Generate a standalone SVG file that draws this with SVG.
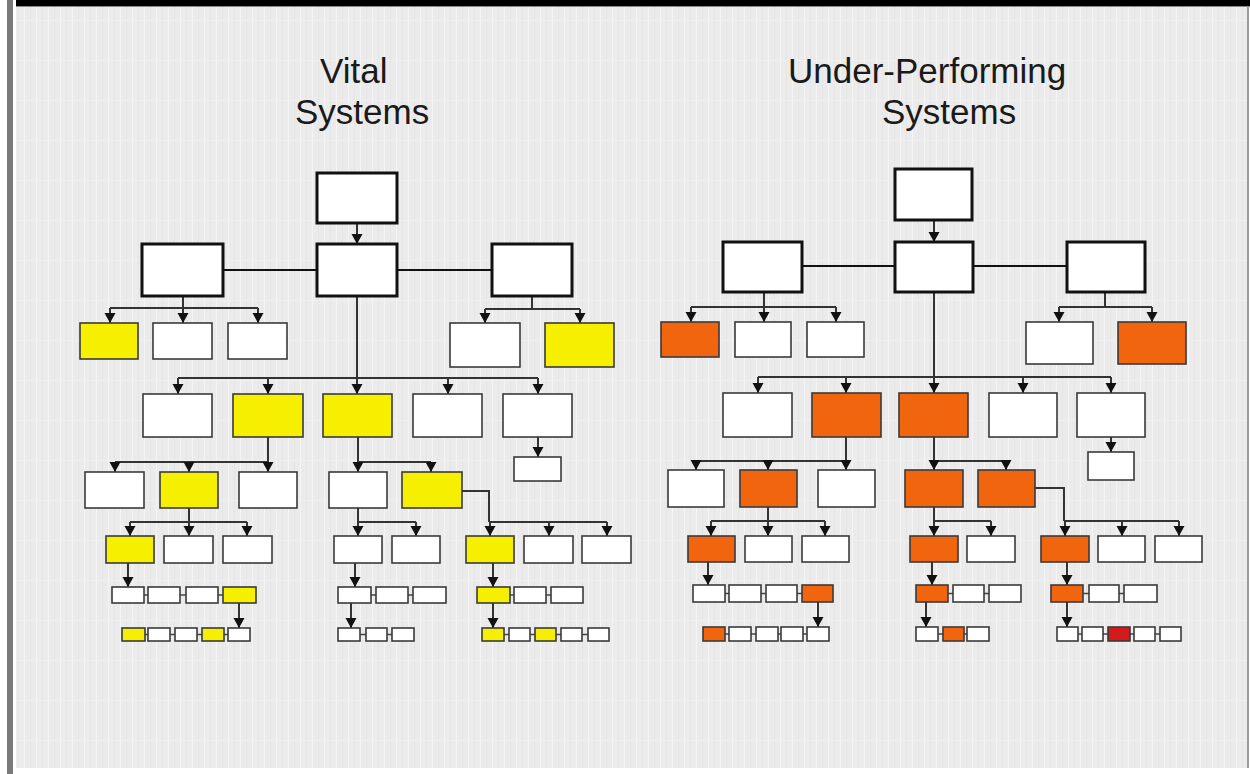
<svg xmlns="http://www.w3.org/2000/svg" width="1250" height="774" viewBox="0 0 1250 774">
<style>
.title{font-family:"Liberation Sans",Arial,sans-serif;font-size:35px;fill:#1a1a1a}
.big{fill:#fff;stroke:#111;stroke-width:3}
.box{fill:#fff;stroke:#3a3a3a;stroke-width:1.6}
.y{fill:#f6ef00}
.o{fill:#f2650f}
.r{fill:#d41a1a}
.c{fill:none;stroke:#333;stroke-width:2}
.k{fill:none;stroke:#111;stroke-width:2}
.a{fill:none;stroke:#333;stroke-width:2;marker-end:url(#arr)}
.l{fill:none;stroke:#444;stroke-width:1.5}
</style>
<defs>
<marker id="arr" markerUnits="userSpaceOnUse" markerWidth="12" markerHeight="12" refX="10" refY="5.5" orient="auto">
<path d="M0,0 L10,5.5 L0,11 z" fill="#111"/>
</marker>
<pattern id="bgp" patternUnits="userSpaceOnUse" width="12" height="40">
<rect width="12" height="40" fill="#ebebeb"/>
<rect x="0" y="0" width="1" height="40" fill="#f4f4f4"/>
<rect x="6" y="0" width="1" height="40" fill="#e5e5e5"/>
<rect x="0" y="20" width="12" height="1" fill="#efefef"/>
</pattern>
</defs>
<rect x="0" y="0" width="1250" height="774" fill="#ffffff"/>
<rect x="16" y="5" width="1231" height="763" fill="url(#bgp)"/>
<rect x="16" y="0" width="1234" height="6" fill="#000"/>
<rect x="16" y="6" width="1234" height="1" fill="#888"/>
<rect x="7" y="0" width="6" height="774" fill="#7a7a7a"/>
<rect x="1247" y="6" width="2" height="762" fill="#9a9a9a"/>

<g id="titles">
<text class="title" x="320" y="83">Vital</text>
<text class="title" x="295" y="124">Systems</text>
<text class="title" x="788" y="83">Under-Performing</text>
<text class="title" x="882" y="124">Systems</text>
</g>

<g id="connectors">
<!-- left tree -->
<path class="a" d="M357,223 V244"/>
<path class="k" d="M223,270 H317 M397,270 H492"/>
<path class="c" d="M183,296 V308 M110,308 H258"/>
<path class="a" d="M110,308 V323"/><path class="a" d="M183,308 V323"/><path class="a" d="M258,308 V323"/>
<path class="c" d="M532,296 V309 M485,309 H580"/>
<path class="a" d="M485,309 V323"/><path class="a" d="M580,309 V323"/>
<path class="c" d="M357,296 V378 M178,378 H538"/>
<path class="a" d="M178,378 V394"/><path class="a" d="M268,378 V394"/><path class="a" d="M357,378 V394"/><path class="a" d="M448,378 V394"/><path class="a" d="M538,378 V394"/>
<path class="a" d="M538,437 V457"/>
<path class="c" d="M268,437 V462 M115,462 H268"/>
<path class="a" d="M115,462 V472"/><path class="a" d="M189,462 V472"/><path class="a" d="M268,462 V472"/>
<path class="c" d="M358,437 V462 H431"/>
<path class="a" d="M358,462 V472"/><path class="a" d="M431,462 V472"/>
<path class="c" d="M462,491 H489 V522 M489,522 H607"/>
<path class="a" d="M490,522 V536"/><path class="a" d="M549,522 V536"/><path class="a" d="M607,522 V536"/>
<path class="c" d="M189,508 V522 M130,522 H247"/>
<path class="a" d="M130,522 V536"/><path class="a" d="M189,522 V536"/><path class="a" d="M247,522 V536"/>
<path class="c" d="M358,508 V522 H416"/>
<path class="a" d="M358,522 V536"/><path class="a" d="M416,522 V536"/>
<path class="a" d="M128,563 V587"/><path class="a" d="M355,563 V587"/><path class="a" d="M493,563 V587"/>
<path class="a" d="M239,603 V628"/><path class="a" d="M351,603 V628"/><path class="a" d="M493,603 V628"/>
<path class="l" d="M144,595 H148 M180,595 H186 M218,595 H223 M371,595 H376 M408,595 H413 M510,595 H514 M546,595 H551"/>
<path class="l" d="M145,634.5 H148 M170,634.5 H175 M197,634.5 H202 M224,634.5 H228 M360,634.5 H366 M387,634.5 H392 M504,634.5 H509 M530,634.5 H535 M556,634.5 H561 M582,634.5 H588"/>
<!-- right tree -->
<path class="a" d="M934,220 V242"/>
<path class="k" d="M802,266 H895 M973,266 H1067"/>
<path class="c" d="M764,292 V307 M691,307 H836"/>
<path class="a" d="M691,307 V322"/><path class="a" d="M764,307 V322"/><path class="a" d="M836,307 V322"/>
<path class="c" d="M1105,292 V307 M1059,307 H1152"/>
<path class="a" d="M1059,307 V322"/><path class="a" d="M1152,307 V322"/>
<path class="c" d="M934,292 V377 M758,377 H1111"/>
<path class="a" d="M758,377 V393"/><path class="a" d="M846,377 V393"/><path class="a" d="M934,377 V393"/><path class="a" d="M1023,377 V393"/><path class="a" d="M1111,377 V393"/>
<path class="a" d="M1111,437 V452"/>
<path class="c" d="M846,437 V461 M696,461 H846"/>
<path class="a" d="M696,461 V470"/><path class="a" d="M768,461 V470"/><path class="a" d="M846,461 V470"/>
<path class="c" d="M934,437 V461 H1006"/>
<path class="a" d="M934,461 V470"/><path class="a" d="M1006,461 V470"/>
<path class="c" d="M1035,488 H1064 V521 M1064,521 H1179"/>
<path class="a" d="M1065,521 V536"/><path class="a" d="M1122,521 V536"/><path class="a" d="M1179,521 V536"/>
<path class="c" d="M768,507 V521 M711,521 H825"/>
<path class="a" d="M711,521 V536"/><path class="a" d="M768,521 V536"/><path class="a" d="M825,521 V536"/>
<path class="c" d="M934,507 V521 H991"/>
<path class="a" d="M934,521 V536"/><path class="a" d="M991,521 V536"/>
<path class="a" d="M708,562 V585"/><path class="a" d="M932,562 V585"/><path class="a" d="M1067,562 V585"/>
<path class="a" d="M818,602 V627"/><path class="a" d="M926,602 V627"/><path class="a" d="M1067,602 V627"/>
<path class="l" d="M725,593.5 H729 M761,593.5 H766 M797,593.5 H802 M948,593.5 H953 M984,593.5 H989 M1083,593.5 H1089 M1119,593.5 H1124"/>
<path class="l" d="M725,634 H729 M751,634 H756 M778,634 H781 M803,634 H807 M938,634 H943 M964,634 H967 M1078,634 H1082 M1103,634 H1108 M1130,634 H1134 M1155,634 H1160"/>
</g>

<g id="left-tree">
<g id="L-top"><rect class="big" x="317" y="173" width="80" height="50"/></g>
<g id="L-m1"><rect class="big" x="142" y="244" width="81" height="52"/></g>
<g id="L-m2"><rect class="big" x="317" y="244" width="80" height="52"/></g>
<g id="L-m3"><rect class="big" x="492" y="244" width="80" height="52"/></g>
<g id="L-r3a"><rect class="box y" x="80" y="323" width="58" height="36"/></g>
<g id="L-r3b"><rect class="box" x="153" y="323" width="59" height="36"/></g>
<g id="L-r3c"><rect class="box" x="228" y="323" width="59" height="36"/></g>
<g id="L-r3d"><rect class="box" x="450" y="323" width="70" height="44"/></g>
<g id="L-r3e"><rect class="box y" x="545" y="323" width="69" height="44"/></g>
<g id="L-r4a"><rect class="box" x="143" y="394" width="69" height="43"/></g>
<g id="L-r4b"><rect class="box y" x="233" y="394" width="70" height="43"/></g>
<g id="L-r4c"><rect class="box y" x="323" y="394" width="69" height="43"/></g>
<g id="L-r4d"><rect class="box" x="413" y="394" width="69" height="43"/></g>
<g id="L-r4e"><rect class="box" x="503" y="394" width="69" height="43"/></g>
<g id="L-small"><rect class="box" x="514" y="457" width="47" height="24"/></g>
<g id="L-r5a"><rect class="box" x="85" y="472" width="59" height="36"/></g>
<g id="L-r5b"><rect class="box y" x="160" y="472" width="58" height="36"/></g>
<g id="L-r5c"><rect class="box" x="239" y="472" width="58" height="36"/></g>
<g id="L-r5d"><rect class="box" x="329" y="472" width="58" height="36"/></g>
<g id="L-r5e"><rect class="box y" x="402" y="472" width="60" height="36"/></g>
<g id="L-r6a"><rect class="box y" x="106" y="536" width="48" height="27"/></g>
<g id="L-r6b"><rect class="box" x="164" y="536" width="49" height="27"/></g>
<g id="L-r6c"><rect class="box" x="223" y="536" width="49" height="27"/></g>
<g id="L-r6d"><rect class="box" x="334" y="536" width="48" height="27"/></g>
<g id="L-r6e"><rect class="box" x="392" y="536" width="48" height="27"/></g>
<g id="L-r6f"><rect class="box y" x="466" y="536" width="48" height="27"/></g>
<g id="L-r6g"><rect class="box" x="524" y="536" width="49" height="27"/></g>
<g id="L-r6h"><rect class="box" x="582" y="536" width="49" height="27"/></g>
<g id="L-r7a"><rect class="box" x="112" y="587" width="32" height="16"/></g>
<g id="L-r7b"><rect class="box" x="148" y="587" width="32" height="16"/></g>
<g id="L-r7c"><rect class="box" x="186" y="587" width="32" height="16"/></g>
<g id="L-r7d"><rect class="box y" x="223" y="587" width="33" height="16"/></g>
<g id="L-r7e"><rect class="box" x="338" y="587" width="33" height="16"/></g>
<g id="L-r7f"><rect class="box" x="376" y="587" width="32" height="16"/></g>
<g id="L-r7g"><rect class="box" x="413" y="587" width="33" height="16"/></g>
<g id="L-r7h"><rect class="box y" x="477" y="587" width="33" height="16"/></g>
<g id="L-r7i"><rect class="box" x="514" y="587" width="32" height="16"/></g>
<g id="L-r7j"><rect class="box" x="551" y="587" width="32" height="16"/></g>
<g id="L-r8a"><rect class="box y" x="122" y="628" width="23" height="13"/></g>
<g id="L-r8b"><rect class="box" x="148" y="628" width="22" height="13"/></g>
<g id="L-r8c"><rect class="box" x="175" y="628" width="22" height="13"/></g>
<g id="L-r8d"><rect class="box y" x="202" y="628" width="22" height="13"/></g>
<g id="L-r8e"><rect class="box" x="228" y="628" width="22" height="13"/></g>
<g id="L-r8f"><rect class="box" x="338" y="628" width="22" height="13"/></g>
<g id="L-r8g"><rect class="box" x="366" y="628" width="21" height="13"/></g>
<g id="L-r8h"><rect class="box" x="392" y="628" width="22" height="13"/></g>
<g id="L-r8i"><rect class="box y" x="482" y="628" width="22" height="13"/></g>
<g id="L-r8j"><rect class="box" x="509" y="628" width="21" height="13"/></g>
<g id="L-r8k"><rect class="box y" x="535" y="628" width="21" height="13"/></g>
<g id="L-r8l"><rect class="box" x="561" y="628" width="21" height="13"/></g>
<g id="L-r8m"><rect class="box" x="588" y="628" width="21" height="13"/></g>
</g>

<g id="right-tree">
<g id="R-top"><rect class="big" x="895" y="169" width="77" height="51"/></g>
<g id="R-m1"><rect class="big" x="723" y="242" width="79" height="50"/></g>
<g id="R-m2"><rect class="big" x="895" y="242" width="78" height="50"/></g>
<g id="R-m3"><rect class="big" x="1067" y="242" width="78" height="50"/></g>
<g id="R-r3a"><rect class="box o" x="661" y="322" width="58" height="35"/></g>
<g id="R-r3b"><rect class="box" x="735" y="322" width="56" height="35"/></g>
<g id="R-r3c"><rect class="box" x="807" y="322" width="57" height="35"/></g>
<g id="R-r3d"><rect class="box" x="1026" y="322" width="67" height="42"/></g>
<g id="R-r3e"><rect class="box o" x="1118" y="322" width="68" height="42"/></g>
<g id="R-r4a"><rect class="box" x="723" y="393" width="69" height="44"/></g>
<g id="R-r4b"><rect class="box o" x="812" y="393" width="69" height="44"/></g>
<g id="R-r4c"><rect class="box o" x="899" y="393" width="69" height="44"/></g>
<g id="R-r4d"><rect class="box" x="989" y="393" width="68" height="44"/></g>
<g id="R-r4e"><rect class="box" x="1077" y="393" width="68" height="44"/></g>
<g id="R-small"><rect class="box" x="1088" y="452" width="46" height="28"/></g>
<g id="R-r5a"><rect class="box" x="668" y="470" width="56" height="37"/></g>
<g id="R-r5b"><rect class="box o" x="740" y="470" width="57" height="37"/></g>
<g id="R-r5c"><rect class="box" x="818" y="470" width="57" height="37"/></g>
<g id="R-r5d"><rect class="box o" x="905" y="470" width="58" height="37"/></g>
<g id="R-r5e"><rect class="box o" x="978" y="470" width="57" height="37"/></g>
<g id="R-r6a"><rect class="box o" x="688" y="536" width="47" height="26"/></g>
<g id="R-r6b"><rect class="box" x="745" y="536" width="47" height="26"/></g>
<g id="R-r6c"><rect class="box" x="802" y="536" width="47" height="26"/></g>
<g id="R-r6d"><rect class="box o" x="910" y="536" width="48" height="26"/></g>
<g id="R-r6e"><rect class="box" x="967" y="536" width="48" height="26"/></g>
<g id="R-r6f"><rect class="box o" x="1041" y="536" width="48" height="26"/></g>
<g id="R-r6g"><rect class="box" x="1098" y="536" width="47" height="26"/></g>
<g id="R-r6h"><rect class="box" x="1155" y="536" width="47" height="26"/></g>
<g id="R-r7a"><rect class="box" x="693" y="585" width="32" height="17"/></g>
<g id="R-r7b"><rect class="box" x="729" y="585" width="32" height="17"/></g>
<g id="R-r7c"><rect class="box" x="766" y="585" width="31" height="17"/></g>
<g id="R-r7d"><rect class="box o" x="802" y="585" width="31" height="17"/></g>
<g id="R-r7e"><rect class="box o" x="916" y="585" width="32" height="17"/></g>
<g id="R-r7f"><rect class="box" x="953" y="585" width="31" height="17"/></g>
<g id="R-r7g"><rect class="box" x="989" y="585" width="32" height="17"/></g>
<g id="R-r7h"><rect class="box o" x="1051" y="585" width="32" height="17"/></g>
<g id="R-r7i"><rect class="box" x="1089" y="585" width="30" height="17"/></g>
<g id="R-r7j"><rect class="box" x="1124" y="585" width="33" height="17"/></g>
<g id="R-r8a"><rect class="box o" x="703" y="627" width="22" height="14"/></g>
<g id="R-r8b"><rect class="box" x="729" y="627" width="22" height="14"/></g>
<g id="R-r8c"><rect class="box" x="756" y="627" width="22" height="14"/></g>
<g id="R-r8d"><rect class="box" x="781" y="627" width="22" height="14"/></g>
<g id="R-r8e"><rect class="box" x="807" y="627" width="22" height="14"/></g>
<g id="R-r8f"><rect class="box" x="916" y="627" width="22" height="14"/></g>
<g id="R-r8g"><rect class="box o" x="943" y="627" width="21" height="14"/></g>
<g id="R-r8h"><rect class="box" x="967" y="627" width="22" height="14"/></g>
<g id="R-r8i"><rect class="box" x="1057" y="627" width="21" height="14"/></g>
<g id="R-r8j"><rect class="box" x="1082" y="627" width="21" height="14"/></g>
<g id="R-r8k"><rect class="box r" x="1108" y="627" width="22" height="14"/></g>
<g id="R-r8l"><rect class="box" x="1134" y="627" width="21" height="14"/></g>
<g id="R-r8m"><rect class="box" x="1160" y="627" width="21" height="14"/></g>
</g>
</svg>
